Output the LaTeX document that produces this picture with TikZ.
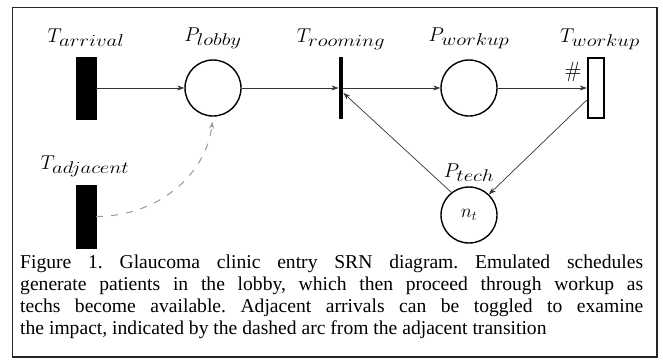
\RequirePackage{fix-cm}
\documentclass[tikz,border=0pt]{standalone}
\usepackage{graphicx}
\usepackage{fontspec}
\newfontfamily\capfont{Liberation Serif}
\DeclareMathSizes{20}{20}{17}{13}
\usetikzlibrary{arrows.meta}
\newcommand{\lblsub}[2]{$#1_{\scalebox{1.22}[1]{$\scriptstyle #2$}}$}
\begin{document}
\begin{tikzpicture}[x=1pt,y=1pt,
  lab/.style={font=\fontsize{20}{24}\selectfont, inner sep=0pt, anchor=base},
  timed/.style={draw=black, fill=black, minimum width=20pt, minimum height=62pt, inner sep=0pt},
  immed/.style={fill=black, minimum width=4.5pt, minimum height=62pt, inner sep=0pt},
  openbox/.style={draw=black, line width=2.4pt, fill=white, minimum width=16pt, minimum height=60pt, inner sep=0pt},
  place/.style={circle, draw=black, line width=1.4pt, minimum size=56pt, inner sep=0pt},
  arc/.style={-{Stealth[length=7pt,width=5pt]}, draw=black!80, line width=0.7pt},
  dasharc/.style={-{Stealth[length=7pt,width=5pt]}, draw=black!40, line width=1pt, dash pattern=on 7pt off 8pt}
]
\useasboundingbox (0,0) rectangle (663,-362);
\draw[line width=1.2pt, black!85] (12.5,-7.5) rectangle (657,-357);

\node[timed] (Tarr) at (86,-88) {};
\node[place] (Plob) at (213,-88) {};
\node[immed] (Troom) at (341,-88) {};
\node[place] (Pwork) at (469,-88) {};
\node[openbox] (Twork) at (596,-88) {};
\node[timed, minimum height=63pt] (Tadj) at (86,-216.5) {};
\node[place, font=\fontsize{19}{24}\selectfont] (Ptech) at (469,-215) {$n_t$};

\node[lab] (LTarr) at (86,-42) {\lblsub{T}{arrival}};
\node[lab] (LPlob) at (213,-41) {\lblsub{P}{lobby}};
\node[lab] (LTroom) at (341,-42) {\lblsub{T}{rooming}};
\node[lab] (LPwork) at (469,-41) {\lblsub{P}{workup}};
\node[lab] (LTwork) at (600,-42) {\lblsub{T}{workup}};
\node[lab] (LTadj) at (85,-169) {\lblsub{T}{adjacent}};
\node[lab] (LPtech) at (469,-177) {\lblsub{P}{tech}};
\node[lab, font=\fontsize{22}{24}\selectfont] (hash) at (573,-77) {\#};

\draw[arc] (Tarr.east) -- (Plob.west);
\draw[arc] (Plob.east) -- (Troom.west);
\draw[arc] (Troom.east) -- (Pwork.west);
\draw[arc] (Pwork.east) -- (Twork.west);
\draw[arc] ([yshift=-12pt]Twork.west) -- (Ptech.46);
\draw[arc] (Ptech.128) -- ([yshift=-5pt]Troom.east);
\draw[dasharc, shorten >=5pt] (Tadj.east) to[out=0, in=-97] (Plob.south);

\node[anchor=north west, inner sep=0pt, text width=623pt, align=justify,
      font=\capfont\fontsize{19.6}{22}\selectfont\frenchspacing] (cap) at (20,-254.5)
 {Figure 1. Glaucoma clinic entry SRN diagram. Emulated schedules\linebreak
  generate patients in the lobby, which then proceed through workup as\linebreak
  techs become available. Adjacent arrivals can be toggled to examine\linebreak
  the impact, indicated by the dashed arc from the adjacent transition};
\end{tikzpicture}
\end{document}
